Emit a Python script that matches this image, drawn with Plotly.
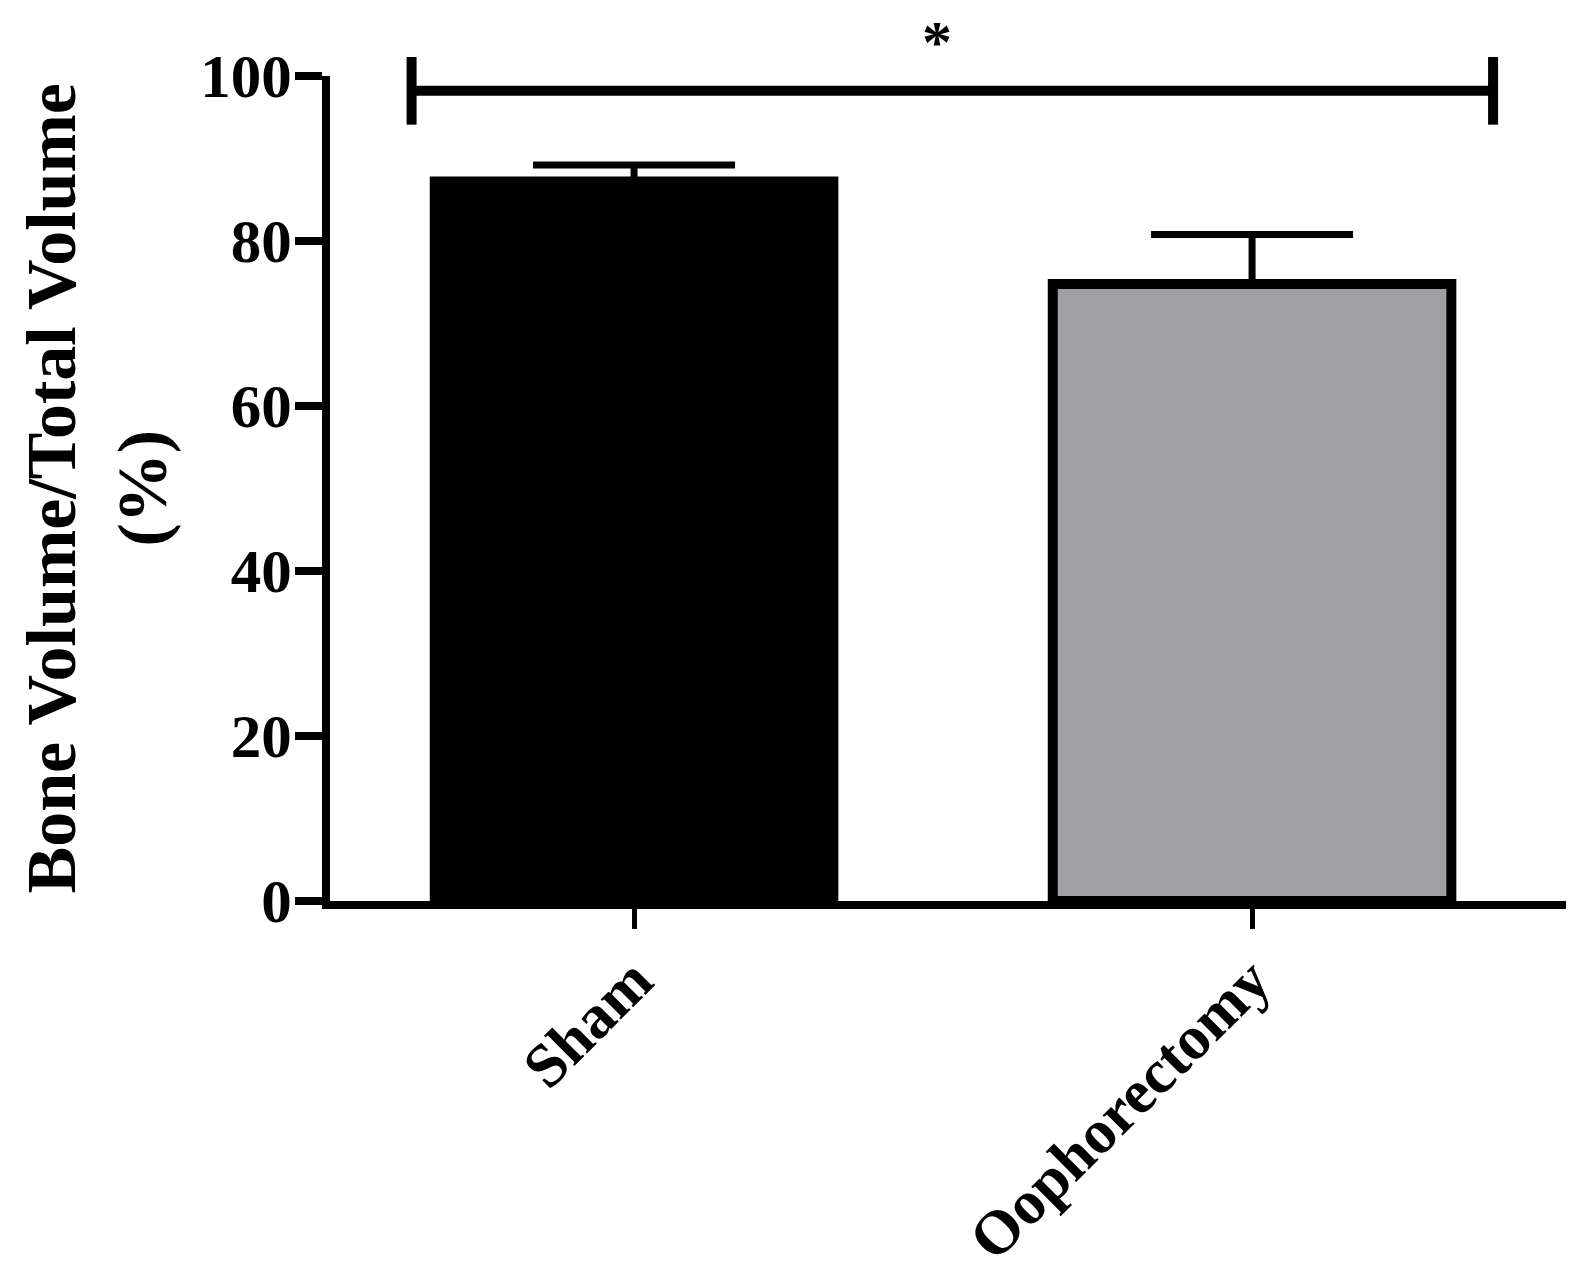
import plotly.graph_objects as go

# datos
grupos = ["Sham", "Oophorectomy"]
media = [87.2, 74.8]
error_sup = [2.0, 6.0]
colores = ["#000000", "#A09FA4"]
y_ticks = [0, 20, 40, 60, 80, 100]
y_max = 100

# corchete de significancia
sig_x = [-0.36, 1.39]
sig_y = 98.2
sig_tick = 4.1
sig_label = "*"

FONT = "Liberation Serif, Times New Roman, serif"

fig = go.Figure()

fig.add_trace(go.Bar(
    x=list(range(len(grupos))),
    y=media,
    width=0.645,
    marker=dict(color=colores, line=dict(color="black", width=10)),
    error_y=dict(type="data", symmetric=False, array=error_sup,
                 arrayminus=[0] * len(grupos),
                 color="black", thickness=7, width=101),
    showlegend=False,
))

# corchete: las lineas sobresalen del rango del eje, asi que se usa yref paper
# (el eje va de 0 a y_max, por lo que valor / y_max = posicion en paper)
linea = dict(color="black", width=10)
for x0, x1, y0, y1 in [
    (sig_x[0], sig_x[0], sig_y - sig_tick, sig_y + sig_tick),
    (sig_x[0], sig_x[1], sig_y, sig_y),
    (sig_x[1], sig_x[1], sig_y - sig_tick, sig_y + sig_tick),
]:
    fig.add_shape(type="line", xref="x", yref="paper",
                  x0=x0, x1=x1, y0=y0 / y_max, y1=y1 / y_max, line=linea)

# asterisco
fig.add_annotation(
    x=0.49, y=1, xref="x", yref="paper", yshift=34,
    xanchor="center", yanchor="middle", text=sig_label, showarrow=False,
    font=dict(family=FONT, size=60, color="black", weight="bold"),
)

# titulo del eje y (dos lineas, rotado)
fig.add_annotation(
    x=0, y=0.5, xref="paper", yref="paper", xshift=-234,
    xanchor="center", yanchor="middle", textangle=-90,
    text="Bone Volume/Total Volume<br>(%)", showarrow=False,
    font=dict(family=FONT, size=70, color="black", weight="bold"),
)

fig.update_xaxes(
    range=[-0.492, 1.508], tickvals=list(range(len(grupos))), ticktext=grupos,
    tickangle=-45, showline=True, linecolor="black", linewidth=8,
    ticks="outside", ticklen=20, tickwidth=5, tickcolor="black",
    ticklabelstandoff=-10,
    showgrid=False, zeroline=False, fixedrange=True,
    tickfont=dict(family=FONT, size=62, color="black", weight="bold"),
)
fig.update_yaxes(
    range=[0, y_max], tickvals=y_ticks, showline=True, linecolor="black",
    linewidth=8, ticks="outside", ticklen=27, tickwidth=8, tickcolor="black",
    ticklabelstandoff=-9,
    showgrid=False, zeroline=False, fixedrange=True,
    tickfont=dict(family=FONT, size=61, color="black", weight="bold"),
)

fig.update_layout(
    width=1583, height=1281,
    margin=dict(l=322, r=25, t=68, b=388, autoexpand=False),
    plot_bgcolor="white", paper_bgcolor="white",
    bargap=0.35,
)

fig.write_html("out.html", config={"displayModeBar": False})
